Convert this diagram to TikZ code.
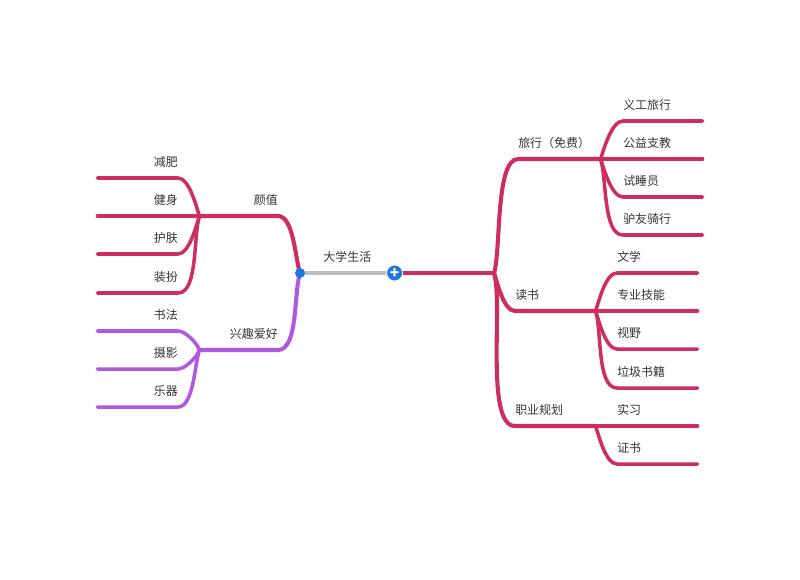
\documentclass[tikz,border=0pt]{standalone}
\usepackage{fontspec}
\setmainfont{Noto Sans CJK SC}
\usetikzlibrary{positioning}
\definecolor{rosered}{RGB}{205,45,95}
\definecolor{lilac}{RGB}{176,88,222}
\definecolor{dotblue}{RGB}{28,120,222}
\definecolor{stemgray}{RGB}{190,190,190}

\begin{document}
\begin{tikzpicture}[
    x=0.025cm, y=-0.025cm,
    every node/.style={font=\fontsize{8.5pt}{10pt}\selectfont, text=black!80},
    roottopic/.style={anchor=south west, inner xsep=0pt, inner ysep=7pt, text width=#1, align=center},
    rtopic/.style={anchor=south west, inner xsep=0pt, inner ysep=7pt, text width=#1, align=left},
    ltopic/.style={anchor=south east, inner xsep=0pt, inner ysep=7pt, text width=#1, align=right},
    redmain/.style={draw=rosered, line width=2.9pt, line cap=round},
    redsub/.style={draw=rosered, line width=2.5pt, line cap=round},
    purpmain/.style={draw=lilac, line width=2.9pt, line cap=round},
    purpsub/.style={draw=lilac, line width=2.5pt, line cap=round},
    trunk/.style={draw=rosered, line width=3.1pt},
    stem/.style={draw=stemgray, line width=2.7pt},
    upright/.style={out=72, in=180, looseness=0.65},
    downright/.style={out=288, in=180, looseness=0.65},
    upleft/.style={out=108, in=0, looseness=0.65},
    downleft/.style={out=252, in=0, looseness=0.65},
    leftdot/.style={circle, fill=dotblue, inner sep=0pt, minimum size=0.25cm},
    plusbtn/.style={circle, fill=dotblue, draw=white, line width=0.6pt, inner sep=0pt, minimum size=0.4cm,
        text=white, font=\bfseries\fontsize{11pt}{11pt}\selectfont}
]
    \useasboundingbox (0,0) rectangle (800,579);

    % Root
    \node[roottopic=2.35cm] (root) at (300,273) {大学生活};
    \coordinate (hub) at (494,273);

    % Right side, first level
    \node[rtopic=2.05cm] (lvxing) at (518,159) {旅行（免费）};
    \node[rtopic=2.0cm] (dushu) at (515,311) {读书};
    \node[rtopic=2.0cm] (zhiye) at (515,426) {职业规划};

    % Right side, second level
    \node[rtopic=1.975cm] (yigong) at (623,121) {义工旅行};
    \node[rtopic=1.975cm] (gongyi) at (623,159) {公益支教};
    \node[rtopic=1.975cm] (shishui) at (623,197) {试睡员};
    \node[rtopic=1.975cm] (lvyou) at (623,235) {驴友骑行};

    \node[rtopic=2.0cm] (wenxue) at (617,273) {文学};
    \node[rtopic=2.0cm] (zhuanye) at (617,311) {专业技能};
    \node[rtopic=2.0cm] (shiye) at (617,349) {视野};
    \node[rtopic=2.0cm] (laji) at (617,388) {垃圾书籍};

    \node[rtopic=2.0cm] (shixi) at (617,426) {实习};
    \node[rtopic=2.0cm] (zhengshu) at (617,464) {证书};

    % Left side, first level
    \node[ltopic=1.95cm] (yanzhi) at (278,216) {颜值};
    \node[ltopic=1.95cm] (xingqu) at (278,350) {兴趣爱好};

    % Left side, second level
    \node[ltopic=2.0cm] (jianfei) at (178,178) {减肥};
    \node[ltopic=2.0cm] (jianshen) at (178,216) {健身};
    \node[ltopic=2.0cm] (hufu) at (178,254) {护肤};
    \node[ltopic=2.0cm] (zhuangban) at (178,293) {装扮};

    \node[ltopic=2.0cm] (shufa) at (178,331) {书法};
    \node[ltopic=2.0cm] (sheying) at (178,369) {摄影};
    \node[ltopic=2.0cm] (yueqi) at (178,407) {乐器};

    % Connections

    % Root stem and trunk
    \draw[stem] (root.south west) -- (root.south east);
    \draw[trunk] (root.south east) -- (hub);

    % Trunk -> first level (right)
    \draw[redmain] (hub) to[upright, looseness=0.5] (lvxing.south west) -- (lvxing.south east);
    \draw[redmain] (hub) to[downright] (dushu.south west) -- (dushu.south east);
    \draw[redmain] (hub) to[downright, looseness=0.5] (zhiye.south west) -- (zhiye.south east);

    % Travel -> items
    \draw[redsub] (lvxing.south east) to[upright] (yigong.south west) -- (yigong.south east);
    \draw[redsub] (lvxing.south east) -- (gongyi.south west) -- (gongyi.south east);
    \draw[redsub] (lvxing.south east) to[downright] (shishui.south west) -- (shishui.south east);
    \draw[redsub] (lvxing.south east) to[downright] (lvyou.south west) -- (lvyou.south east);

    % Reading -> items
    \draw[redsub] (dushu.south east) to[upright] (wenxue.south west) -- (wenxue.south east);
    \draw[redsub] (dushu.south east) -- (zhuanye.south west) -- (zhuanye.south east);
    \draw[redsub] (dushu.south east) to[downright] (shiye.south west) -- (shiye.south east);
    \draw[redsub] (dushu.south east) to[downright] (laji.south west) -- (laji.south east);

    % Career -> items
    \draw[redsub] (zhiye.south east) -- (shixi.south west) -- (shixi.south east);
    \draw[redsub] (zhiye.south east) to[downright] (zhengshu.south west) -- (zhengshu.south east);

    % Root -> first level (left)
    \draw[redmain] (root.south west) to[upleft] (yanzhi.south east) -- (yanzhi.south west);
    \draw[purpmain] (root.south west) to[downleft] (xingqu.south east) -- (xingqu.south west);

    % Looks -> items
    \draw[redsub] (yanzhi.south west) to[upleft] (jianfei.south east) -- (jianfei.south west);
    \draw[redsub] (yanzhi.south west) -- (jianshen.south east) -- (jianshen.south west);
    \draw[redsub] (yanzhi.south west) to[downleft] (hufu.south east) -- (hufu.south west);
    \draw[redsub] (yanzhi.south west) to[downleft] (zhuangban.south east) -- (zhuangban.south west);

    % Hobbies -> items
    \draw[purpsub] (xingqu.south west) to[upleft] (shufa.south east) -- (shufa.south west);
    \draw[purpsub] (xingqu.south west) to[downleft] (sheying.south east) -- (sheying.south west);
    \draw[purpsub] (xingqu.south west) to[downleft] (yueqi.south east) -- (yueqi.south west);

    % Root markers
    \node[leftdot] (ldot) at (root.south west) {};
    \node[plusbtn] (plus) at (root.south east) {+};

\end{tikzpicture}
\end{document}
